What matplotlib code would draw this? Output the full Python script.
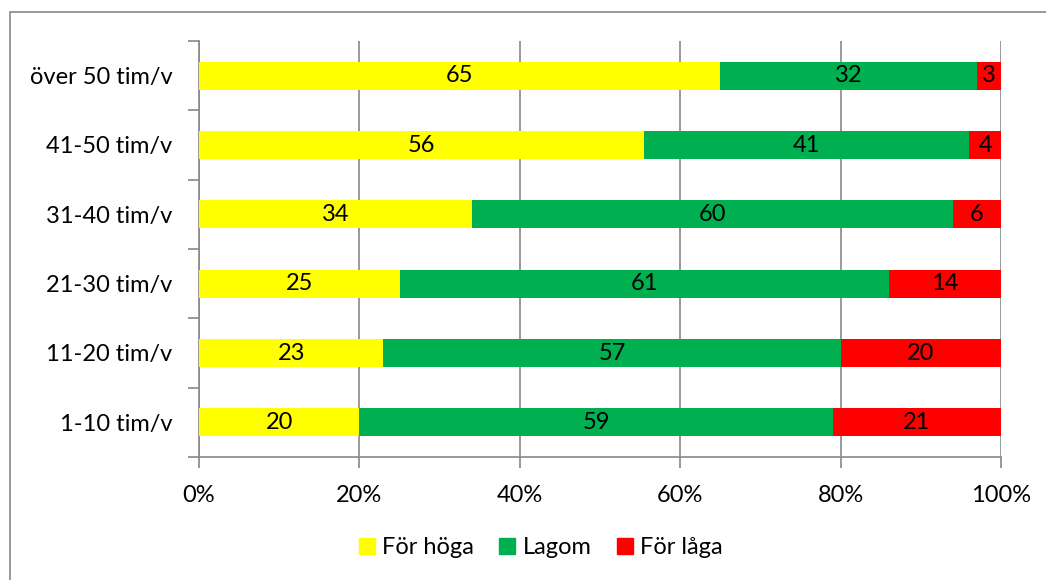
import numpy as np
import matplotlib
matplotlib.use('Agg')
import matplotlib.pyplot as plt
from matplotlib.patches import Rectangle
from matplotlib.lines import Line2D

plt.rcParams['font.family'] = ['Lato', 'DejaVu Sans']

categories = ['1-10 tim/v', '11-20 tim/v', '21-30 tim/v', '31-40 tim/v', '41-50 tim/v', 'över 50 tim/v']
hoga = [20, 23, 25, 34, 56, 65]
lagom = [59, 57, 61, 60, 41, 32]
laga = [21, 20, 14, 6, 4, 3]
series_names = ['För höga', 'Lagom', 'För låga']
colors = ['#FFFF00', '#00B050', '#FF0000']

raw = np.array([hoga, lagom, laga], dtype=float)
share = raw / raw.sum(axis=0) * 100

fig = plt.figure(figsize=(10.46, 5.8), dpi=100)
ax = fig.add_axes([199 / 1046, 1 - 457 / 580, 802 / 1046, 416 / 580])

# outer chart frame (right and bottom edges fall outside the image)
fig.patches.append(Rectangle((10 / 1046, -0.02), 1.1, 1 - 12 / 580 + 0.02,
                             transform=fig.transFigure, fill=False,
                             edgecolor='#888888', linewidth=1.2))

fs = 17
y = np.arange(len(categories))
left = np.zeros(len(categories))
for vals, shr, name, col in zip(raw, share, series_names, colors):
    ax.barh(y, shr, left=left, height=0.4, color=col, label=name, zorder=3)
    for yi, l, s, v in zip(y, left, shr, vals):
        ax.text(l + s / 2, yi, f'{v:.0f}', ha='center', va='center',
                fontsize=fs, color='black', zorder=4)
    left += shr

ax.set_xlim(0, 100)
ax.set_ylim(-0.5, len(categories) - 0.5)
ax.set_xticks(np.arange(0, 101, 20))
ax.set_xticklabels([f'{t}%' for t in range(0, 101, 20)], fontsize=fs)
ax.set_yticks(np.arange(-0.5, len(categories), 1))
ax.set_yticklabels([])
ax.set_yticks(y, minor=True)
ax.set_yticklabels(categories, minor=True, fontsize=fs)
ax.tick_params(axis='y', which='minor', length=0, pad=19)
ax.tick_params(axis='y', which='major', length=8, color='#888888', width=1.2)
ax.tick_params(axis='x', length=8, color='#888888', width=1.2, pad=12)
ax.grid(axis='x', color='#888888', linewidth=1.2, zorder=0)
for s in ['top', 'right']:
    ax.spines[s].set_visible(False)
for s in ['left', 'bottom']:
    ax.spines[s].set_color('#888888')
    ax.spines[s].set_linewidth(1.2)

handles = [Line2D([], [], marker='s', linestyle='none', markersize=11,
                  markerfacecolor=c, markeredgecolor=c) for c in colors]
fig.legend(handles, series_names, loc='center', bbox_to_anchor=(540 / 1046, 1 - 548 / 580),
           ncol=3, frameon=False, fontsize=fs, handlelength=0.8,
           handletextpad=0.25, columnspacing=1.0)

fig.savefig('out.png', dpi=100)
